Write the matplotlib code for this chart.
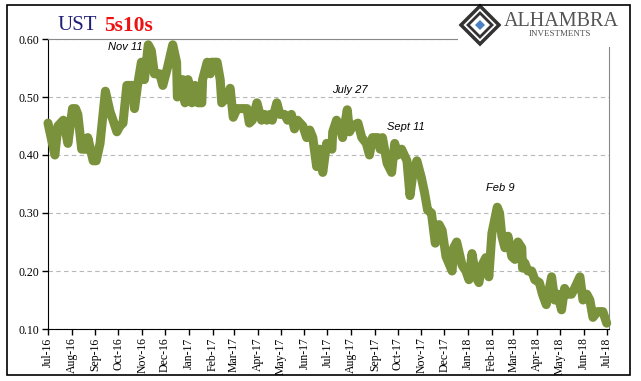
import matplotlib
matplotlib.use("Agg")
import matplotlib.pyplot as plt
import matplotlib.dates as mdates
from matplotlib.patches import Rectangle, Polygon
import pandas as pd

# UST 5s10s spread
dates = ["2016-07-01", "2016-07-10", "2016-07-14", "2016-07-21", "2016-07-27", "2016-08-02",
         "2016-08-06", "2016-08-09", "2016-08-14", "2016-08-21", "2016-08-22", "2016-08-29",
         "2016-09-02", "2016-09-07", "2016-09-14", "2016-09-20", "2016-09-24", "2016-09-29",
         "2016-10-03", "2016-10-07", "2016-10-12", "2016-10-20", "2016-10-22", "2016-10-26",
         "2016-10-31", "2016-11-04", "2016-11-09", "2016-11-13", "2016-11-17", "2016-11-24",
         "2016-11-28", "2016-12-04", "2016-12-11", "2016-12-16", "2016-12-17", "2016-12-24",
         "2016-12-27", "2016-12-31", "2017-01-05", "2017-01-09", "2017-01-13", "2017-01-18",
         "2017-01-19", "2017-01-25", "2017-01-29", "2017-01-31", "2017-02-07", "2017-02-11",
         "2017-02-13", "2017-02-20", "2017-02-24", "2017-02-28", "2017-03-05", "2017-03-11",
         "2017-03-18", "2017-03-21", "2017-03-25", "2017-03-31", "2017-04-06", "2017-04-10",
         "2017-04-13", "2017-04-17", "2017-04-20", "2017-04-26", "2017-04-30", "2017-05-06",
         "2017-05-10", "2017-05-15", "2017-05-19", "2017-05-23", "2017-05-30", "2017-06-04",
         "2017-06-08", "2017-06-12", "2017-06-17", "2017-06-21", "2017-06-25", "2017-06-30",
         "2017-07-07", "2017-07-08", "2017-07-13", "2017-07-17", "2017-07-21", "2017-07-27",
         "2017-07-30", "2017-08-03", "2017-08-10", "2017-08-15", "2017-08-21", "2017-08-25",
         "2017-08-29", "2017-09-05", "2017-09-08", "2017-09-11", "2017-09-17", "2017-09-23",
         "2017-09-27", "2017-10-01", "2017-10-06", "2017-10-13", "2017-10-17", "2017-10-21",
         "2017-10-26", "2017-11-01", "2017-11-05", "2017-11-09", "2017-11-14", "2017-11-19",
         "2017-11-24", "2017-11-28", "2017-12-03", "2017-12-11", "2017-12-13", "2017-12-17",
         "2017-12-24", "2017-12-29", "2018-01-02", "2018-01-06", "2018-01-11", "2018-01-15",
         "2018-01-19", "2018-01-24", "2018-01-28", "2018-02-01", "2018-02-08", "2018-02-11",
         "2018-02-14", "2018-02-18", "2018-02-22", "2018-02-27", "2018-03-03", "2018-03-07",
         "2018-03-12", "2018-03-13", "2018-03-16", "2018-03-20", "2018-03-25", "2018-03-29",
         "2018-04-04", "2018-04-08", "2018-04-13", "2018-04-20", "2018-04-24", "2018-04-28",
         "2018-05-03", "2018-05-07", "2018-05-11", "2018-05-16", "2018-05-20", "2018-05-27",
         "2018-05-31", "2018-06-05", "2018-06-09", "2018-06-13", "2018-06-19", "2018-06-26",
         "2018-07-01"]
spread = [0.455, 0.40, 0.45, 0.46, 0.42, 0.48,
          0.48, 0.47, 0.41, 0.41, 0.43, 0.39,
          0.39, 0.42, 0.51, 0.475, 0.46, 0.44,
          0.45, 0.455, 0.52, 0.52, 0.48, 0.52,
          0.56, 0.53, 0.59, 0.58, 0.54, 0.54,
          0.52, 0.55, 0.59, 0.56, 0.50, 0.53,
          0.49, 0.53, 0.49, 0.52, 0.49, 0.49,
          0.53, 0.56, 0.54, 0.56, 0.56, 0.53,
          0.49, 0.50, 0.515, 0.465, 0.48, 0.48,
          0.48, 0.455, 0.46, 0.49, 0.46, 0.47,
          0.46, 0.47, 0.46, 0.49, 0.47, 0.47,
          0.46, 0.47, 0.445, 0.46, 0.45, 0.43,
          0.443, 0.43, 0.38, 0.41, 0.37, 0.42,
          0.41, 0.44, 0.46, 0.45, 0.43, 0.478,
          0.44, 0.45, 0.455, 0.43, 0.42, 0.40,
          0.43, 0.43, 0.41, 0.43, 0.386, 0.37,
          0.42, 0.40, 0.41, 0.39, 0.33, 0.37,
          0.39, 0.36, 0.335, 0.305, 0.30, 0.248,
          0.28, 0.27, 0.225, 0.20, 0.24, 0.25,
          0.21, 0.20, 0.185, 0.23, 0.19, 0.18,
          0.21, 0.223, 0.19, 0.265, 0.31, 0.30,
          0.26, 0.24, 0.26, 0.225, 0.22, 0.25,
          0.24, 0.205, 0.214, 0.20, 0.20, 0.185,
          0.18, 0.16, 0.142, 0.19, 0.15, 0.16,
          0.133, 0.17, 0.16, 0.16, 0.17, 0.19,
          0.15, 0.16, 0.15, 0.12, 0.13, 0.13,
          0.11]

notes = ["Nov 11", "July 27", "Sept 11", "Feb 9"]
note_dates = ["2016-10-10", "2017-07-30", "2017-10-11", "2018-02-12"]
note_vals = [0.586, 0.512, 0.448, 0.343]

x = pd.to_datetime(dates)

fig = plt.figure(figsize=(6.41, 3.81), dpi=100)
fig.patch.set_facecolor("white")

ax = fig.add_axes([48 / 641, 1 - 329 / 381, 561 / 641, 290 / 381])
ax.plot(x, spread, color="#7b923c", linewidth=6.5, solid_joinstyle="round",
        solid_capstyle="round", zorder=3, clip_on=False)

ax.set_ylim(0.10, 0.60)
ax.set_yticks([0.10, 0.20, 0.30, 0.40, 0.50, 0.60])
ax.set_yticklabels(["0.10", "0.20", "0.30", "0.40", "0.50", "0.60"],
                   fontfamily="Liberation Serif", fontsize=8.5)
ax.set_xlim(pd.Timestamp("2016-07-01"), pd.Timestamp("2018-07-04"))
ax.xaxis.set_major_locator(mdates.MonthLocator())
ax.xaxis.set_major_formatter(mdates.DateFormatter("%b-%y"))
for lab in ax.get_xticklabels():
    lab.set_rotation(90)
    lab.set_fontfamily("Liberation Serif")
    lab.set_fontsize(8.5)

ax.yaxis.grid(True, linestyle=(0, (4, 3)), color="#b8b8b8", linewidth=0.8)
ax.set_axisbelow(True)
ax.spines["left"].set_color("black")
ax.spines["bottom"].set_color("black")
ax.spines["top"].set_color("#888888")
ax.spines["right"].set_color("#888888")
ax.tick_params(axis="both", direction="out", length=4, width=1, pad=2)

for t, d, v in zip(notes, note_dates, note_vals):
    ax.text(pd.Timestamp(d), v, t, fontsize=8, style="italic",
            fontfamily="Liberation Sans", ha="center", va="center", color="black")

# title
fig.text(57 / 641, 1 - 26 / 381, "UST", fontfamily="Liberation Serif",
         fontsize=15, color="#1f1f7a", va="center")
fig.text(104 / 641, 1 - 26 / 381, "5s10s", fontfamily="Liberation Serif",
         fontsize=15.5, fontweight="bold", color="#ee1111", va="center")

# logo, white box over the axes corner
fig.patches.append(Rectangle((458 / 641, 1 - 47 / 381), 170 / 641, 40 / 381,
                             transform=fig.transFigure, facecolor="white",
                             edgecolor="none", zorder=5))
cx, cy, r = 480 / 641, 1 - 25 / 381, 19
fig.patches.append(Polygon([(cx - r / 641, cy), (cx, cy + r / 381), (cx + r / 641, cy),
                            (cx, cy - r / 381)], closed=True, transform=fig.transFigure,
                           facecolor="white", edgecolor="#333333", linewidth=2.5, zorder=6))
r2 = 12
fig.patches.append(Polygon([(cx - r2 / 641, cy), (cx, cy + r2 / 381), (cx + r2 / 641, cy),
                            (cx, cy - r2 / 381)], closed=True, transform=fig.transFigure,
                           facecolor="none", edgecolor="#333333", linewidth=2, zorder=6))
r3 = 5
fig.patches.append(Polygon([(cx - r3 / 641, cy), (cx, cy + r3 / 381), (cx + r3 / 641, cy),
                            (cx, cy - r3 / 381)], closed=True, transform=fig.transFigure,
                           facecolor="#4a7fc1", edgecolor="none", zorder=7))
fig.text(504 / 641, 1 - 21 / 381, "ALHAMBRA", fontfamily="Liberation Serif",
         fontsize=14.5, color="#555555", va="center", zorder=8)
fig.text(560 / 641, 1 - 34 / 381, "INVESTMENTS", fontfamily="Liberation Serif",
         fontsize=6.5, color="#555555", va="center", ha="center", zorder=8)

# outer frame, drawn last so it stays on top
fig.patches.append(Rectangle((7 / 641, 1 - 375 / 381), 623 / 641, 370 / 381,
                             transform=fig.transFigure, fill=False,
                             edgecolor="black", linewidth=1.2, zorder=10))

fig.savefig("out.png", dpi=100, facecolor="white")
